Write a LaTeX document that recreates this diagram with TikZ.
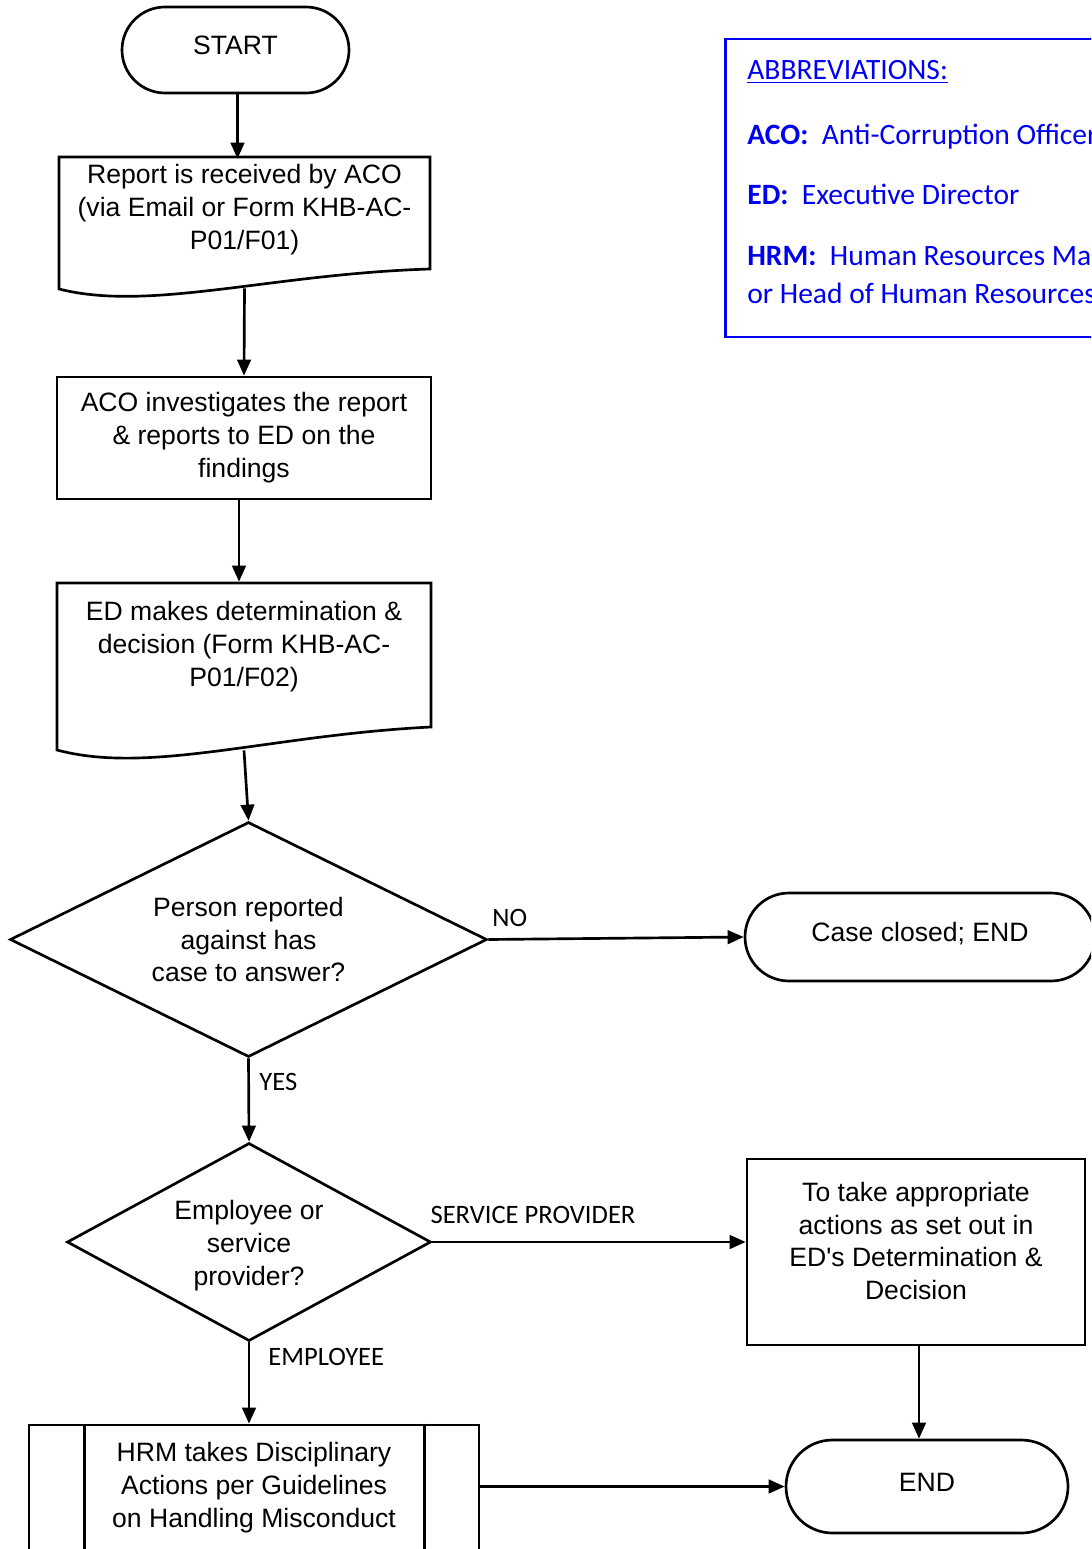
\documentclass[tikz,border=0pt]{standalone}
\usepackage{fontspec}
\setmainfont{Liberation Sans}
\newfontfamily\calibri{Carlito}
\usetikzlibrary{arrows.meta,shapes.geometric,shapes.misc}
\definecolor{abbrblue}{RGB}{0,0,240}
\newlength\pxu
\setlength\pxu{0.025cm}

\begin{document}
\begin{tikzpicture}[x=0.025cm,y=-0.025cm,>={Triangle[length=0.4cm,width=0.34cm]},line width=1.9pt,
  every node/.style={font=\fontsize{18.9}{23.4}\selectfont},
  term/.style={rounded rectangle,draw,inner sep=0,text height=13.5pt,text depth=7pt},
  proc/.style={rectangle,draw,align=center,inner sep=0},
  docbox/.style={rectangle,align=center,inner sep=0},
  decision/.style={diamond,draw,aspect=2,align=center,inner sep=0},
  lbl/.style={font=\calibri\fontsize{18.9}{22}\selectfont,inner sep=0}]
\useasboundingbox (0,0) rectangle (1091,1549);
\clip (0,0) rectangle (1091,1549);

% main column
\node[term,minimum width=227\pxu,minimum height=86\pxu] (start) at (235.5,50) {START};

\draw (59,157) -- (430,157) -- (430,269) .. controls (270,274) and (150,312) .. (59,289) -- cycle;
\node[docbox,minimum width=371\pxu,minimum height=100\pxu] (receive) at (244.5,210)
  {Report is received by ACO\\ (via Email or Form KHB-AC-\\ P01/F01)};

\node[proc,minimum width=374\pxu,minimum height=122\pxu] (investigate) at (244,438)
  {ACO investigates the report\\ \& reports to ED on the\\ findings};

\draw (57,583) -- (431,583) -- (431,727) .. controls (270,735) and (150,775) .. (57,750) -- cycle;
\node[docbox,minimum width=374\pxu,minimum height=128\pxu] (decide) at (244,647)
  {ED makes determination \&\\ decision (Form KHB-AC-\\ P01/F02)};

\node[decision,minimum width=477\pxu,minimum height=235\pxu] (case) at (248.5,939.5)
  {Person reported\\ against has\\ case to answer?};
\node[decision,minimum width=364\pxu,minimum height=198\pxu,
  label={[align=center,yshift=-4\pxu]center:{Employee or\\ service\\ provider?}}] (who) at (249,1242) {};

\node[proc,minimum width=450\pxu,minimum height=135\pxu,
  label={[align=center,yshift=5\pxu]center:{HRM takes Disciplinary\\ Actions per Guidelines\\ on Handling Misconduct}}] (hrm) at (254,1492.5) {};
\draw ([xshift=57\pxu]hrm.north west) -- ([xshift=57\pxu]hrm.south west);
\draw ([xshift=-56\pxu]hrm.north east) -- ([xshift=-56\pxu]hrm.south east);

% right column
\node[term,minimum width=350\pxu,minimum height=88\pxu] (closed) at (920,937) {Case closed; END};
\node[proc,minimum width=338\pxu,minimum height=186\pxu,
  label={[align=center,yshift=11\pxu]center:{To take appropriate\\ actions as set out in\\ ED\textquotesingle s Determination \&\\ Decision}}] (actions) at (916,1252) {};
\node[term,minimum width=282\pxu,minimum height=93\pxu] (end) at (927,1486.5) {END};

\node[draw=abbrblue,line width=2.1pt,anchor=west,minimum width=420\pxu,minimum height=298\pxu,
  label={[text=abbrblue,align=left,anchor=west,inner sep=0,xshift=22\pxu,yshift=6\pxu,
    font=\calibri\fontsize{21}{27}\selectfont]west:{\underline{ABBREVIATIONS:}\\[19pt]
   \textbf{ACO:}\ \ Anti-Corruption Officer\\[16pt]
   \textbf{ED:}\ \ Executive Director\\[16pt]
   \textbf{HRM:}\ \ Human Resources Manager\\
   or Head of Human Resources}}] (abbr) at (724,188) {};

% labels
\node[lbl,anchor=west] (no) at (491,918) {NO};
\node[lbl,anchor=west] (yes) at (258,1082) {YES};
\node[lbl] (sp) at (533,1215) {SERVICE PROVIDER};
\node[lbl,anchor=west] (emp) at (267,1357) {EMPLOYEE};

% connectors
\draw[->] ([xshift=2\pxu]start.south) -- ([xshift=2\pxu]start.south |- receive.north);
\draw[->] ([yshift=-27\pxu]receive.south) -- (investigate.north);
\draw[->] ([xshift=-5\pxu]investigate.south) -- ([xshift=-5\pxu]decide.north);
\draw[->] ([yshift=-38\pxu]decide.south) -- (case.north);
\draw[->] (case.east) -- (closed.west);
\draw[->] (case.south) -- (who.north);
\draw[->] (who.east) -- (who.east -| actions.west);
\draw[->] (who.south) -- (who.south |- hrm.north);
\draw[->] ([xshift=3\pxu]actions.south) -- ([xshift=3\pxu]actions.south |- end.north);
\draw[->] (hrm.east |- end.west) -- (end.west);
\end{tikzpicture}
\end{document}
